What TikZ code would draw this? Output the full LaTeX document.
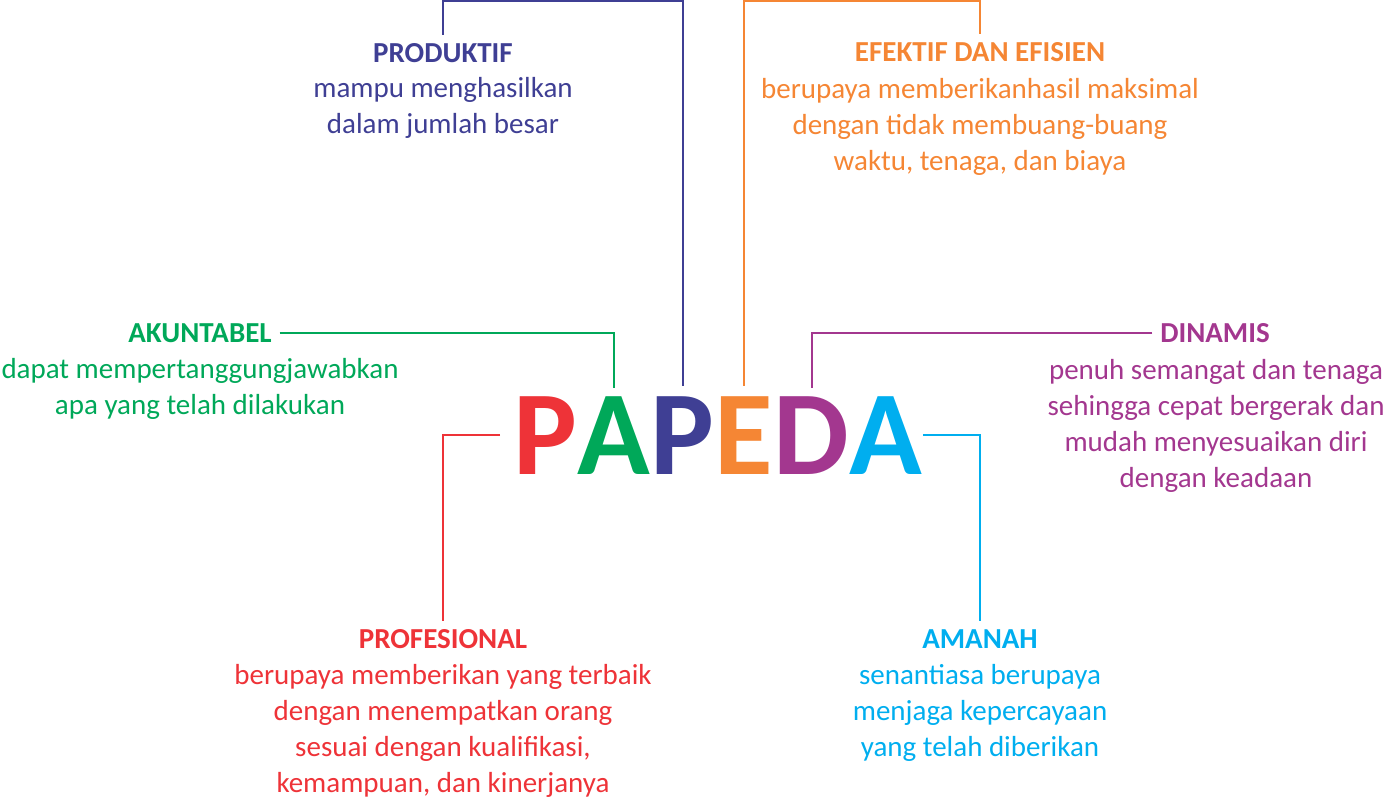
\documentclass[tikz,border=0pt]{standalone}
\usepackage{fontspec}
\setmainfont{Carlito}
\usetikzlibrary{positioning}

\definecolor{pRed}{HTML}{EE3338}
\definecolor{pGreen}{HTML}{00A859}
\definecolor{pNavy}{HTML}{3F3F94}
\definecolor{pOrange}{HTML}{F58634}
\definecolor{pPurple}{HTML}{A3378F}
\definecolor{pCyan}{HTML}{00AEEF}

\tikzset{
  letter/.style={inner sep=0pt, anchor=base west, font=\fontsize{120}{120}\selectfont\bfseries},
  title/.style={inner sep=0pt, outer sep=8pt, anchor=base, font=\fontsize{29}{36}\selectfont\bfseries},
  body/.style={inner sep=0pt, anchor=north, align=center, font=\fontsize{29}{36}\selectfont},
  link/.style={line width=2pt},
}

\begin{document}
\begin{tikzpicture}[x=1pt, y=-1pt]
    \useasboundingbox (0,0) rectangle (1385,798);
    \coordinate (top) at (0,1);

    % the word
    \node[letter, text=pRed] (P1) at (513,474) {P};
    \node[letter, text=pGreen] (A1) at (P1.base east) {A};
    \node[letter, text=pNavy] (P2) at (A1.base east) {P};
    \node[letter, text=pOrange] (E) at (P2.base east) {E};
    \node[letter, text=pPurple] (D) at (E.base east) {D};
    \node[letter, text=pCyan] (A2) at (D.base east) {A};

    % the six values
    \node[title, text=pNavy] (prod) at (443,62) {PRODUKTIF};
    \node[body, text=pNavy] (prodtext) at (443,77) {mampu menghasilkan\\dalam jumlah besar};

    \node[title, text=pOrange] (eff) at (980,61) {EFEKTIF DAN EFISIEN};
    \node[body, text=pOrange] (efftext) at (980,78) {berupaya memberikanhasil maksimal\\dengan tidak membuang-buang\\waktu, tenaga, dan biaya};

    \node[title, text=pGreen] (akun) at (200,342) {AKUNTABEL};
    \node[body, text=pGreen] (akuntext) at (200,358) {dapat mempertanggungjawabkan\\apa yang telah dilakukan};

    \node[title, text=pPurple] (dina) at (1215,342) {DINAMIS};
    \node[body, text=pPurple] (dinatext) at (1216,359) {penuh semangat dan tenaga\\sehingga cepat bergerak dan\\mudah menyesuaikan diri\\dengan keadaan};

    \node[title, text=pRed] (prof) at (443,648) {PROFESIONAL};
    \node[body, text=pRed] (proftext) at (443,664) {berupaya memberikan yang terbaik\\dengan menempatkan orang\\sesuai dengan kualifikasi,\\kemampuan, dan kinerjanya};

    \node[title, text=pCyan] (aman) at (980,648) {AMANAH};
    \node[body, text=pCyan] (amantext) at (980,664) {senantiasa berupaya\\menjaga kepercayaan\\yang telah diberikan};

    % links
    \draw[link, pNavy, shorten >=10pt] (prod.north) -- (prod.north |- top) -| (P2.north);
    \draw[link, pOrange, shorten <=10pt] (E.north) -- (E.north |- top) -| (eff.north);
    \draw[link, pGreen, shorten >=8pt] (akun.east) -| (A1.north);
    \draw[link, pPurple, shorten >=8pt] (dina.west) -| (D.north);
    \draw[link, pRed, shorten <=13pt] (P1.west) -| (prof.north);
    \draw[link, pCyan] (A2.east) -| (aman.north);
\end{tikzpicture}
\end{document}
